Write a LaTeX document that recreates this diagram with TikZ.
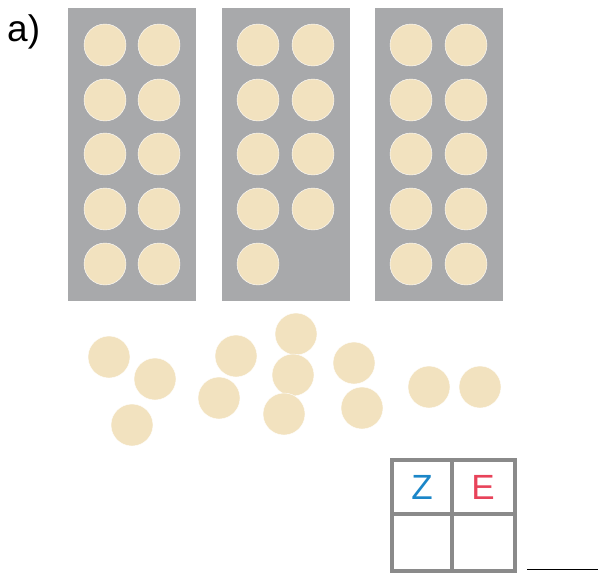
\documentclass[tikz,border=0pt]{standalone}
\usepackage{fontspec}
\setmainfont{Liberation Sans}
\usetikzlibrary{decorations.pathmorphing}
\definecolor{panelgray}{HTML}{A8A9AB}
\definecolor{dotfill}{HTML}{F2E2BF}
\definecolor{zblue}{HTML}{1B86C8}
\definecolor{ered}{HTML}{E8435A}
\definecolor{pencil}{HTML}{8A8A8A}
\begin{document}
\begin{tikzpicture}[x=1pt,y=-1pt,
  panel/.style={fill=panelgray,draw=none},
  dot/.style={circle,fill=dotfill,draw=white,line width=0.4pt,minimum size=42pt,inner sep=0pt},
  grid/.style={draw=pencil,line width=3.2pt},
  lbl/.style={font=\fontsize{37}{37}\selectfont,inner sep=0pt},
  digit/.style={font=\fontsize{35}{35}\selectfont,inner sep=0pt}]
\useasboundingbox (0,0) rectangle (599,573);
% label
\node[lbl,anchor=base west] (lab) at (7,41) {a)};
% panels
\fill[panel] (68,8) rectangle (196,301);
\fill[panel] (222,8) rectangle (350,301);
\fill[panel] (375,8) rectangle (503,301);
% dots in panels
\foreach \px/\pn in {105/a,258/b,411/c}{
  \foreach \r/\y in {1/45,2/100,3/154,4/209,5/264}{
    \node[dot] (\pn L\r) at (\px,\y) {};
  }
}
\foreach \px/\pn in {159/a,466/c}{
  \foreach \r/\y in {1/45,2/100,3/154,4/209,5/264}{
    \node[dot] (\pn R\r) at (\px,\y) {};
  }
}
\foreach \r/\y in {1/45,2/100,3/154,4/209}{
  \node[dot] (bR\r) at (313,\y) {};
}
% loose dots
\node[dot] (l1) at (109,357) {};
\node[dot] (l2) at (155,379) {};
\node[dot] (l3) at (132,425) {};
\node[dot] (l4) at (236,356) {};
\node[dot] (l5) at (219,398) {};
\node[dot] (l6) at (296,334) {};
\node[dot] (l7) at (293,375) {};
\node[dot] (l8) at (284,414) {};
\node[dot] (l9) at (354,363) {};
\node[dot] (l10) at (362,408) {};
\node[dot] (l11) at (429,387) {};
\node[dot] (l12) at (480,387) {};
% place value table
\draw[grid] (392,460) rectangle (515,571);
\draw[grid] (452,460) -- (452,571);
\draw[grid] (392,514) -- (515,514);
\node[digit,text=zblue] (Z) at (422,487) {Z};
\node[digit,text=ered] (E) at (483,487) {E};
% answer line
\coordinate (ls) at (527,569);
\coordinate (le) at (598,569);
\draw[line width=1pt] (ls) -- (le);
\end{tikzpicture}
\end{document}
